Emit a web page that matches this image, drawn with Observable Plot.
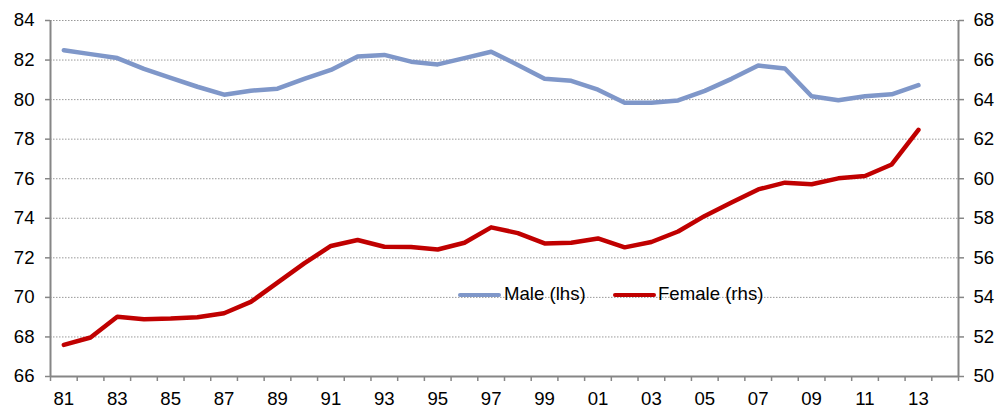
<!DOCTYPE html>
<html><head><meta charset="utf-8">
<script src="https://cdn.jsdelivr.net/npm/d3@7"></script>
<script src="https://cdn.jsdelivr.net/npm/@observablehq/plot@0.6"></script>
<style>
body{margin:0;background:#fff;font-family:"Liberation Sans",Arial,sans-serif}
#wrap{position:relative;width:998px;height:409px}
.sw{position:absolute;height:4.5px;border-radius:2px}
.lt{position:absolute;font-size:18.6px;line-height:18px;color:#000;white-space:nowrap}
</style>
</head><body><div id="wrap"></div>
<script>
const years = [1981,1982,1983,1984,1985,1986,1987,1988,1989,1990,1991,1992,1993,1994,1995,1996,1997,1998,1999,2000,2001,2002,2003,2004,2005,2006,2007,2008,2009,2010,2011,2012,2013];
const male = [82.5,82.3,82.1,81.55,81.1,80.65,80.25,80.45,80.55,81.05,81.5,82.18,82.26,81.92,81.78,82.1,82.42,81.75,81.05,80.95,80.5,79.84,79.84,79.96,80.44,81.05,81.72,81.57,80.17,79.97,80.17,80.27,80.73];
const female = [51.6,51.97,53.02,52.9,52.93,53.0,53.2,53.77,54.75,55.72,56.6,56.9,56.56,56.55,56.42,56.76,57.54,57.25,56.73,56.76,56.98,56.53,56.8,57.33,58.12,58.8,59.46,59.8,59.72,60.02,60.14,60.72,62.47];
const leftTicks = [66,68,70,72,74,76,78,80,82,84];
const rightTicks = [50,52,54,56,58,60,62,64,66,68];
const labelYears = [1981,1983,1985,1987,1989,1991,1993,1995,1997,1999,2001,2003,2005,2007,2009,2011,2013];
const seriesNames = ["Male (lhs)", "Female (rhs)"];
const colors = ["#7f97c9", "#c00000"];

const xDomain = [1980.5, 2014.5];
const xBounds = d3.range(xDomain[0], xDomain[1] + 0.01, 1);
const yR = d3.scaleLinear([50, 68], [66, 84]);
const data = years.map((y, i) => ({year: y, male: male[i], female: female[i]}));
const axisGray = "#868686";
const fs = 18.6;

const plot = Plot.plot({
  width: 998, height: 409,
  marginLeft: 50, marginRight: 40, marginTop: 20, marginBottom: 33,
  style: {fontFamily: "Liberation Sans, Arial, sans-serif", fontSize: fs + "px", color: "#000", background: "#fff", overflow: "visible"},
  x: {domain: xDomain, label: null},
  y: {domain: [leftTicks[0], leftTicks[leftTicks.length - 1]], label: null},
  marks: [
    Plot.ruleY(leftTicks.slice(1), {stroke: "#999", strokeWidth: 1, strokeDasharray: "1.5,1.5"}),
    Plot.axisY(leftTicks, {tickSize: 5, tickPadding: 11, stroke: axisGray, strokeWidth: 1.5, fill: "#000", fontSize: fs, label: null}),
    Plot.axisY(rightTicks, {anchor: "right", y: yR, tickFormat: d => String(d), tickSize: 5, tickPadding: 10, stroke: axisGray, strokeWidth: 1.5, fill: "#000", fontSize: fs, label: null}),
    Plot.axisX(xBounds, {tickSize: 5, tickFormat: () => "", stroke: axisGray, strokeWidth: 1.5, label: null}),
    Plot.axisX(labelYears, {tickSize: 0, tickPadding: 15, tickFormat: d => String(d % 100).padStart(2, "0"), fill: "#000", fontSize: fs, label: null}),
    Plot.ruleX(xDomain, {stroke: axisGray, strokeWidth: 2}),
    Plot.ruleY([leftTicks[0]], {stroke: axisGray, strokeWidth: 2}),
    Plot.lineY(data, {x: "year", y: "male", stroke: colors[0], strokeWidth: 4.5}),
    Plot.lineY(data, {x: "year", y: d => yR(d.female), stroke: colors[1], strokeWidth: 4.5})
  ]
});
const wrap = document.getElementById("wrap");
wrap.appendChild(plot);

// legend overlay (inside plot area)
const legendPos = [{sw: 458, tx: 504}, {sw: 613, tx: 658}];
seriesNames.forEach((name, i) => {
  const s = document.createElement("div");
  s.className = "sw";
  s.style.left = legendPos[i].sw + "px";
  s.style.width = "43px";
  s.style.top = "292.5px";
  s.style.background = colors[i];
  wrap.appendChild(s);
  const t = document.createElement("div");
  t.className = "lt";
  t.style.left = legendPos[i].tx + "px";
  t.style.top = "285px";
  t.textContent = name;
  wrap.appendChild(t);
});
</script>
</body></html>
